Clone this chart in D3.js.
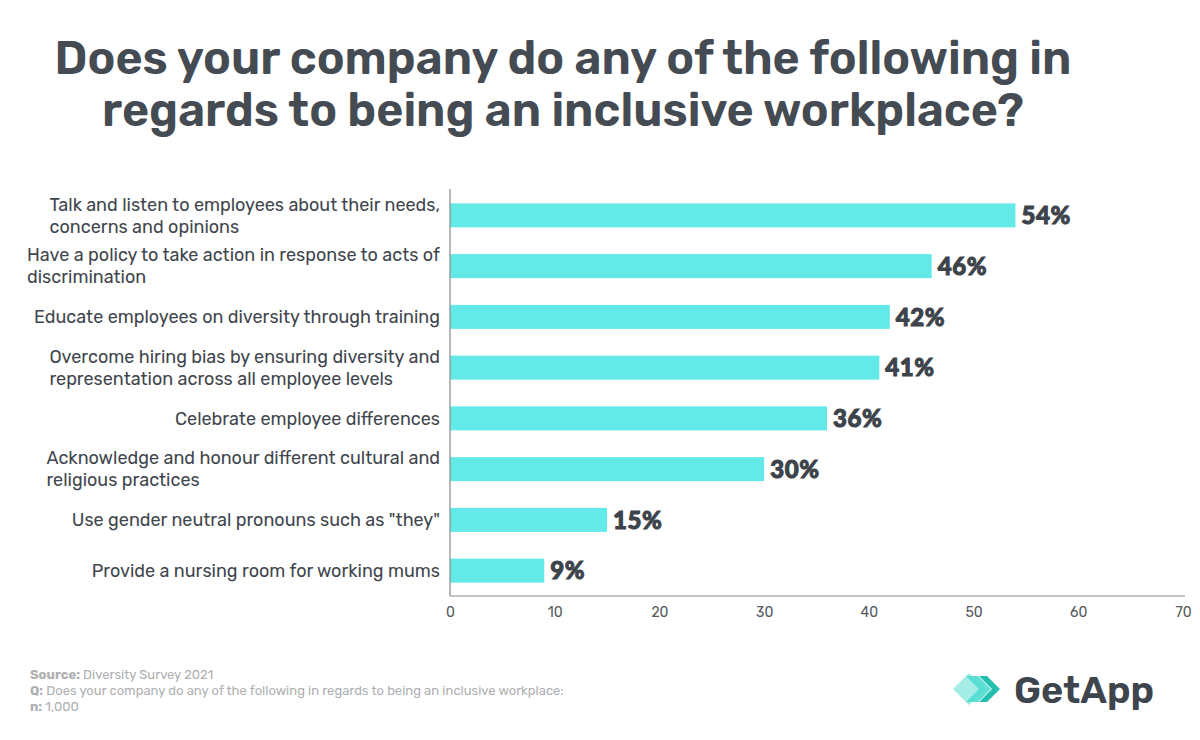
<!DOCTYPE html>
<html>
<head>
<meta charset="utf-8">
<script src="https://cdn.jsdelivr.net/npm/d3@7.9.0/dist/d3.min.js"></script>
<style>
  body { margin: 0; background: #fff; }
  svg { display: block; }
</style>
</head>
<body>
<svg id="chart" width="1200" height="740"></svg>
<script>
// chart data
const categories = [
    ['Talk and listen to employees about their needs,', 'concerns and opinions'],
    ['Have a policy to take action in response to acts of', 'discrimination'],
    ['Educate employees on diversity through training'],
    ['Overcome hiring bias by ensuring diversity and', 'representation across all employee levels'],
    ['Celebrate employee differences'],
    ['Acknowledge and honour different cultural and', 'religious practices'],
    ['Use gender neutral pronouns such as "they"'],
    ['Provide a nursing room for working mums'],
];
const values = [54, 46, 42, 41, 36, 30, 15, 9];
const xTicks = [0, 10, 20, 30, 40, 50, 60, 70];
const titleLines = [
    'Does your company do any of the following in',
    'regards to being an inclusive workplace?',
];
const footerLines = [
    ['Source:', ' Diversity Survey 2021'],
    ['Q:', ' Does your company do any of the following in regards to being an inclusive workplace:'],
    ['n:', ' 1,000'],
];

const svg = d3.select('#chart');
const textColor = '#41464e';
const labelFont = 'Rubik, Inter, "Noto Sans", sans-serif';

// title
let title = svg.append('g')
    .attr('font-family', labelFont)
    .attr('font-weight', 600)
    .attr('fill', '#454b53')
    .attr('text-anchor', 'middle');

titleLines.forEach((line, i) => {
    title.append('text')
        .attr('x', 563)
        .attr('y', 74 + i * 52)
        .attr('font-size', 46)
        .text(line);
});

// shrink title so first line spans roughly 55 -> 1072
let firstWidth = title.select('text').node().getComputedTextLength();
let titleSize = 46 * 1017 / firstWidth;
title.selectAll('text').attr('font-size', titleSize);

// scales
let x = d3.scaleLinear().domain([0, 70]).range([450, 1183]);
let y = d3.scaleBand()
    .domain(d3.range(values.length))
    .range([190, 596])
    .paddingInner(0.527)
    .paddingOuter(0.2635);

// bars
svg.append('g')
    .selectAll('rect')
    .data(values)
    .join('rect')
    .attr('x', x(0))
    .attr('y', (d, i) => y(i))
    .attr('width', (d) => x(d) - x(0))
    .attr('height', y.bandwidth())
    .attr('fill', '#63eae8');

// value labels
svg.append('g')
    .selectAll('text')
    .data(values)
    .join('text')
    .attr('x', (d) => x(d) + 6)
    .attr('y', (d, i) => y(i) + y.bandwidth() / 2)
    .attr('dy', '0.36em')
    .attr('font-family', 'Lato, "Open Sans", sans-serif')
    .attr('font-weight', 900)
    .attr('font-size', 24)
    .attr('fill', '#3d434b')
    .attr('stroke', '#3d434b')
    .attr('stroke-width', 1)
    .attr('letter-spacing', 0.6)
    .text((d) => d + '%');

// category labels
let labels = svg.append('g')
    .attr('font-family', labelFont)
    .attr('font-size', 18)
    .attr('fill', textColor)
    .attr('text-anchor', 'start');

categories.forEach((lines, i) => {
    let cy = y(i) + y.bandwidth() / 2;
    let t = labels.append('text').attr('y', cy - (lines.length - 1) * 11);
    lines.forEach((line, j) => {
        t.append('tspan')
            .attr('x', 0)
            .attr('dy', j === 0 ? '0.35em' : 22)
            .text(line);
    });
    // block is left aligned, right edge at 440
    let w = t.node().getBBox().width;
    t.attr('transform', `translate(${440 - w},0)`);
});

// axes
svg.append('line')
    .attr('x1', 450).attr('x2', 450)
    .attr('y1', 189).attr('y2', 596)
    .attr('stroke', '#8a8a8a')
    .attr('stroke-width', 1.2);

let xAxis = svg.append('g')
    .attr('transform', 'translate(0,596)')
    .call(d3.axisBottom(x).tickValues(xTicks).tickSize(0).tickPadding(11));

xAxis.select('.domain')
    .attr('stroke', '#8a8a8a')
    .attr('stroke-width', 1.2)
    .attr('d', 'M450,0H1185');

xAxis.selectAll('text')
    .attr('font-family', labelFont)
    .attr('font-size', 14)
    .attr('fill', '#555a60');

// footer
let footer = svg.append('g')
    .attr('font-family', labelFont)
    .attr('font-size', 13)
    .attr('fill', '#aeb0b3');

footerLines.forEach(([head, rest], i) => {
    let t = footer.append('text').attr('x', 30).attr('y', 679 + i * 16);
    t.append('tspan').attr('font-weight', 700).text(head);
    t.append('tspan').text(rest);
});

// GetApp logo
let logo = svg.append('g').attr('transform', 'translate(953,689)');

logo.append('path')
    .attr('d', 'M0,0 L16,-16 L32,0 L16,16 Z')
    .attr('fill', '#a3ede6');

logo.append('path')
    .attr('d', 'M13,-13 L25,-13 L38,0 L25,13 L13,13 L26,0 Z')
    .attr('fill', '#4fdccf')
    .attr('opacity', 0.9);

logo.append('path')
    .attr('d', 'M26,-13 L34,-13 L47,0 L34,13 L26,13 L39,0 Z')
    .attr('fill', '#25bfb0');

logo.append('text')
    .attr('x', 61)
    .attr('y', 14)
    .attr('font-family', labelFont)
    .attr('font-weight', 600)
    .attr('font-size', 38)
    .attr('fill', '#3f454d')
    .text('GetApp');
</script>
</body>
</html>
